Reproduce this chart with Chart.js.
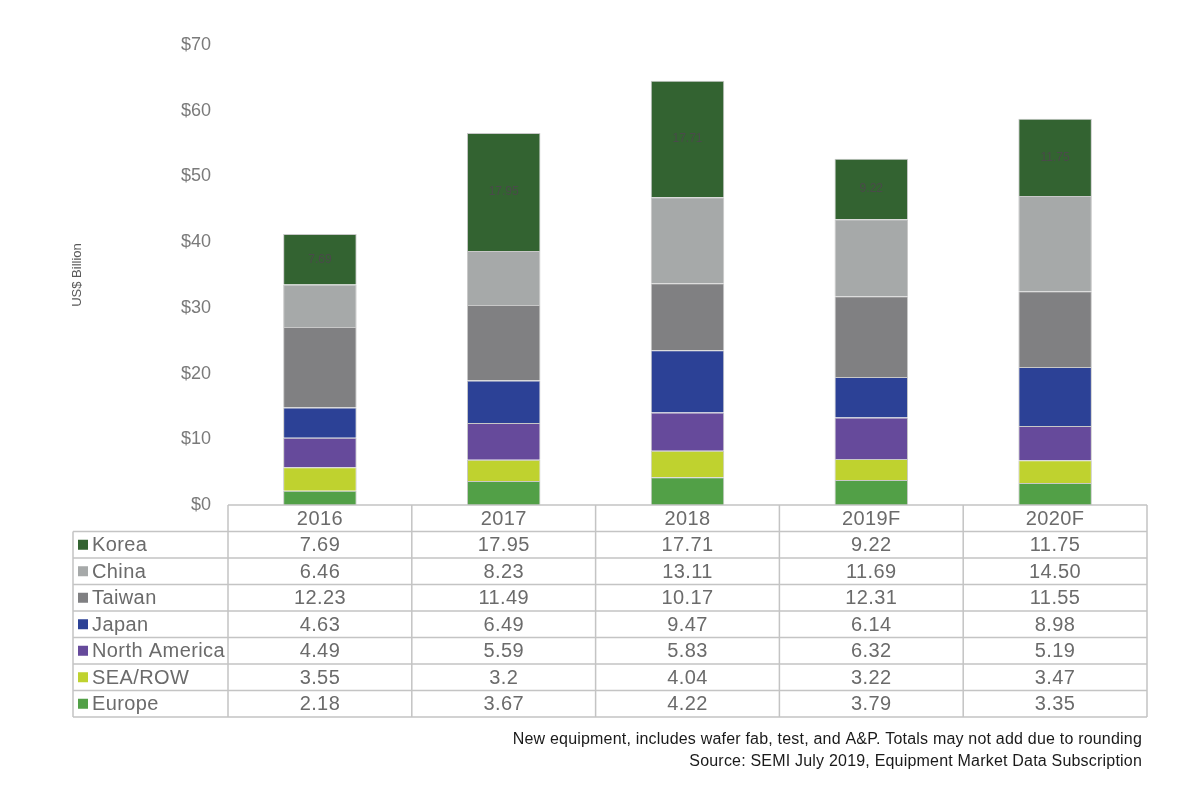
<!DOCTYPE html>
<html>
<head>
<meta charset="utf-8">
<script src="https://cdn.jsdelivr.net/npm/chart.js@4"></script>
<style>
  html, body { margin: 0; padding: 0; background: #fff; }
  #wrap { width: 1200px; height: 800px; }
</style>
</head>
<body>
<div id="wrap"><canvas id="c" width="1200" height="800"></canvas></div>
<script>
// values as printed in the table (kept as text so "3.2" and "14.50" show as in the source)
const years = ['2016', '2017', '2018', '2019F', '2020F']
const korea = ['7.69', '17.95', '17.71', '9.22', '11.75']
const china = ['6.46', '8.23', '13.11', '11.69', '14.50']
const taiwan = ['12.23', '11.49', '10.17', '12.31', '11.55']
const japan = ['4.63', '6.49', '9.47', '6.14', '8.98']
const northAmerica = ['4.49', '5.59', '5.83', '6.32', '5.19']
const seaRow = ['3.55', '3.2', '4.04', '3.22', '3.47']
const europe = ['2.18', '3.67', '4.22', '3.79', '3.35']
const yTicks = [0, 10, 20, 30, 40, 50, 60, 70]

const notes = [
  'New equipment, includes wafer fab, test, and A&P. Totals may not add due to rounding',
  'Source: SEMI July 2019, Equipment Market Data Subscription'
]

const FONT = '"Liberation Sans", Arial, sans-serif'
const GRID = '#c4c4c4'

// stacked bottom to top
const series = [
  { name: 'Europe', values: europe, color: '#52a047' },
  { name: 'SEA/ROW', values: seaRow, color: '#bfd22f' },
  { name: 'North America', values: northAmerica, color: '#664a9b' },
  { name: 'Japan', values: japan, color: '#2c4196' },
  { name: 'Taiwan', values: taiwan, color: '#808082' },
  { name: 'China', values: china, color: '#a6a9a9' },
  { name: 'Korea', values: korea, color: '#336331' }
]

const extras = {
  id: 'extras',
  afterDraw(chart) {
    const ctx = chart.ctx
    const area = chart.chartArea
    const x = chart.scales.x
    const colW = area.width / years.length
    const rowH = 26.5
    const top = area.bottom
    const tableLeft = 73
    const rows = series.slice().reverse()
    const bottom = top + rowH * (rows.length + 1)

    ctx.save()

    // value labels inside the Korea segments
    const meta = chart.getDatasetMeta(series.length - 1)
    ctx.font = '12px ' + FONT
    ctx.fillStyle = '#4a4a4a'
    ctx.textAlign = 'center'
    ctx.textBaseline = 'middle'
    meta.data.forEach((bar, i) => {
      const p = bar.getProps(['x', 'y', 'base'], true)
      ctx.fillText(korea[i], p.x, (p.y + p.base) / 2)
    })

    // axis title
    ctx.save()
    ctx.translate(77, 275)
    ctx.rotate(-Math.PI / 2)
    ctx.font = '13px ' + FONT
    ctx.fillStyle = '#595959'
    ctx.fillText('US$ Billion', 0, 0)
    ctx.restore()

    // table lines
    ctx.strokeStyle = GRID
    ctx.lineWidth = 1.5
    ctx.beginPath()
    ctx.moveTo(area.left, top)
    ctx.lineTo(area.right, top)
    for (let r = 1; r <= rows.length + 1; r++) {
      ctx.moveTo(tableLeft, top + r * rowH)
      ctx.lineTo(area.right, top + r * rowH)
    }
    ctx.moveTo(tableLeft, top + rowH)
    ctx.lineTo(tableLeft, bottom)
    for (let c = 0; c <= years.length; c++) {
      const cx = area.left + c * colW
      ctx.moveTo(cx, top)
      ctx.lineTo(cx, bottom)
    }
    ctx.stroke()

    // header and cells
    ctx.font = '20px ' + FONT
    ctx.letterSpacing = '0.4px'
    ctx.fillStyle = '#6b6b6b'
    ctx.textAlign = 'center'
    years.forEach((yr, i) => {
      ctx.fillText(yr, x.getPixelForValue(i), top + rowH / 2 + 1)
    })
    rows.forEach((s, r) => {
      const cy = top + (r + 1.5) * rowH + 1
      ctx.fillStyle = s.color
      ctx.fillRect(tableLeft + 5, cy - 6, 10, 10)
      ctx.fillStyle = '#6b6b6b'
      ctx.textAlign = 'left'
      ctx.fillText(s.name, tableLeft + 19, cy)
      ctx.textAlign = 'center'
      s.values.forEach((v, i) => {
        ctx.fillText(v, x.getPixelForValue(i), cy)
      })
    })

    // footnotes
    ctx.font = '16px ' + FONT
    ctx.letterSpacing = '0.2px'
    ctx.fillStyle = '#1a1a1a'
    ctx.textAlign = 'right'
    ctx.textBaseline = 'alphabetic'
    ctx.fillText(notes[0], 1142, 744)
    ctx.fillText(notes[1], 1142, 766)

    ctx.restore()
  }
}

new Chart(document.getElementById('c'), {
  type: 'bar',
  data: {
    labels: years,
    datasets: series.map(s => ({
      label: s.name,
      data: s.values.map(Number),
      backgroundColor: s.color,
      borderColor: '#c8c8c8',
      borderWidth: 1,
      categoryPercentage: 1,
      barPercentage: 0.4
    }))
  },
  options: {
    responsive: false,
    animation: false,
    layout: { padding: { top: 45, right: 53, bottom: 295, left: 0 } },
    plugins: { legend: { display: false }, tooltip: { enabled: false } },
    scales: {
      x: { stacked: true, display: false },
      y: {
        stacked: true,
        min: 0,
        max: 70,
        afterBuildTicks: scale => { scale.ticks = yTicks.map(v => ({ value: v })) },
        afterFit: scale => { scale.width = 228 },
        grid: { display: false },
        border: { display: false },
        ticks: {
          padding: 9,
          color: '#7a7a7a',
          font: { family: FONT, size: 18 },
          callback: v => '$' + v
        }
      }
    }
  },
  plugins: [extras]
})
</script>
</body>
</html>
